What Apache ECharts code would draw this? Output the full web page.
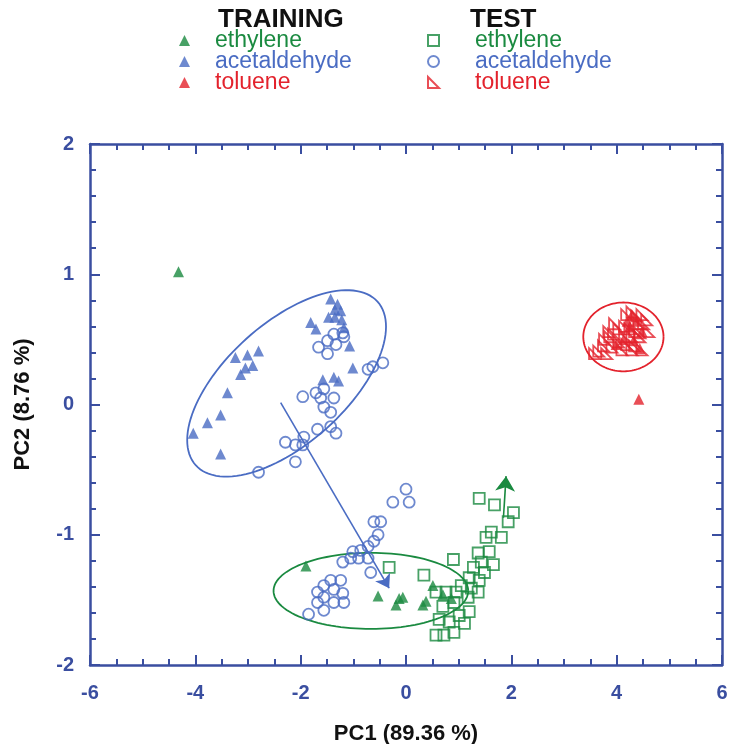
<!DOCTYPE html>
<html>
<head>
<meta charset="utf-8">
<script src="https://cdn.jsdelivr.net/npm/echarts@6/dist/echarts.min.js"></script>
<style>
  html, body { margin: 0; padding: 0; background: #fff; }
  #chartBox { width: 734px; height: 744px; }
</style>
</head>
<body>
<div id="chartBox"></div>
<script>
// colours
const GREEN = '#1a8a40'
const BLUE = '#4a6cc3'
const RED = '#e3222c'
const AXIS = '#3a4ea0'

// training (filled triangles)
const trainEthylene = [
  [-4.32, 1.02], [-1.90, -1.24], [-0.53, -1.47], [-0.13, -1.49], [-0.06, -1.48],
  [-0.19, -1.54], [0.32, -1.54], [0.38, -1.51], [0.51, -1.39], [0.70, -1.46], [0.86, -1.49]
]
const trainAcetaldehyde = [
  [-1.81, 0.63], [-1.71, 0.58], [-1.43, 0.81], [-1.30, 0.77], [-1.35, 0.67], [-1.22, 0.65],
  [-1.47, 0.67], [-1.18, 0.59], [-1.35, 0.73], [-1.24, 0.72], [-1.07, 0.45],
  [-3.24, 0.36], [-3.01, 0.38], [-2.80, 0.41], [-3.05, 0.28], [-2.91, 0.30], [-3.14, 0.23],
  [-3.39, 0.09], [-3.52, -0.08], [-3.77, -0.14], [-4.04, -0.22], [-3.52, -0.38],
  [-1.01, 0.28], [-1.58, 0.19], [-1.37, 0.21], [-1.28, 0.18]
]
const trainToluene = [
  [4.29, 0.69], [4.38, 0.64], [4.25, 0.60], [4.48, 0.56], [4.13, 0.50],
  [4.32, 0.49], [4.44, 0.43], [3.99, 0.46], [4.20, 0.64], [4.42, 0.04]
]

// test
const testEthylene = [
  [1.39, -0.72], [1.68, -0.77], [2.04, -0.83], [1.94, -0.90], [1.52, -1.02], [1.81, -1.02],
  [1.62, -0.98], [1.37, -1.14], [1.58, -1.13], [0.90, -1.19], [1.43, -1.21], [1.66, -1.23],
  [1.28, -1.25], [1.49, -1.29], [0.34, -1.31], [-0.32, -1.25], [1.20, -1.33], [1.39, -1.35],
  [0.76, -1.44], [0.95, -1.44], [1.18, -1.48], [1.37, -1.44], [0.70, -1.55], [0.91, -1.52],
  [1.20, -1.59], [1.01, -1.62], [0.63, -1.65], [0.82, -1.67], [1.11, -1.68], [0.57, -1.77],
  [0.72, -1.77], [0.91, -1.75], [1.05, -1.39], [1.24, -1.41], [0.57, -1.44]
]
const testAcetaldehyde = [
  [-1.37, 0.54], [-1.20, 0.55], [-1.49, 0.49], [-1.66, 0.44], [-1.33, 0.46], [-1.49, 0.39],
  [-1.18, 0.52], [-0.72, 0.27], [-0.63, 0.29], [-0.44, 0.32], [-1.96, 0.06], [-1.71, 0.09],
  [-1.56, 0.12], [-1.62, 0.05], [-1.37, 0.05], [-1.56, -0.02], [-1.43, -0.06], [-1.68, -0.19],
  [-1.43, -0.17], [-1.33, -0.22], [-2.29, -0.29], [-2.10, -0.31], [-1.94, -0.25], [-1.96, -0.31],
  [-2.10, -0.44], [-2.80, -0.52],
  [0.00, -0.65], [0.06, -0.75], [-0.25, -0.75], [-0.61, -0.90], [-0.48, -0.90], [-0.53, -1.00],
  [-0.61, -1.05], [-0.72, -1.09], [-0.86, -1.12], [-1.01, -1.13], [-1.05, -1.18], [-0.90, -1.18],
  [-1.20, -1.21], [-0.72, -1.18], [-0.67, -1.29], [-1.24, -1.35], [-1.43, -1.35], [-1.56, -1.39],
  [-1.68, -1.44], [-1.37, -1.42], [-1.20, -1.45], [-1.56, -1.48], [-1.18, -1.52], [-1.68, -1.52],
  [-1.85, -1.61], [-1.56, -1.58], [-1.37, -1.52]
]
const testToluene = [
  [4.19, 0.69], [4.29, 0.71], [4.38, 0.68], [4.48, 0.69], [4.57, 0.65], [4.51, 0.62], [4.42, 0.62],
  [4.15, 0.60], [4.25, 0.58], [4.34, 0.56], [4.44, 0.55], [4.61, 0.56], [3.96, 0.62], [4.04, 0.58],
  [3.94, 0.54], [3.85, 0.56], [3.87, 0.52], [4.15, 0.52], [4.29, 0.52], [4.44, 0.52], [3.77, 0.50],
  [4.04, 0.48], [4.19, 0.46], [4.34, 0.45], [3.75, 0.45], [3.91, 0.44], [4.10, 0.42], [4.29, 0.42],
  [4.48, 0.42], [3.66, 0.41], [3.81, 0.39], [3.58, 0.39]
]

// ellipses: centre x, centre y, semi-axis a (x, y), semi-axis b (x, y)
const ellipseAcetaldehyde = [-2.267, 0.162, 1.726, 0.628, 0.764, -0.343]
const ellipseEthylene = [-0.667, -1.431, 1.848, 0, 0, 0.292]
const ellipseToluene = [4.128, 0.519, 0.762, 0, 0, 0.264]

// arrows: from -> to
const arrowAcetaldehyde = [[-2.38, 0.015], [-0.32, -1.41]]
const arrowEthylene = [[1.85, -0.87], [1.90, -0.55]]

const xTicks = { min: -6, max: 6, interval: 2 }
const yTicks = { min: -2, max: 2, interval: 1 }

const FONT = 'Liberation Sans'

function ellipseSeries (e, color) {
  return {
    type: 'custom',
    silent: true,
    clip: false,
    z: 1,
    data: [[e[0], e[1]]],
    encode: { x: 0, y: 1 },
    renderItem: function (params, api) {
      const pts = []
      for (let i = 0; i <= 120; i++) {
        const t = i / 120 * Math.PI * 2
        const c = Math.cos(t)
        const s = Math.sin(t)
        pts.push(api.coord([e[0] + e[2] * c + e[4] * s, e[1] + e[3] * c + e[5] * s]))
      }
      return {
        type: 'polyline',
        shape: { points: pts },
        style: { stroke: color, lineWidth: 1.8, fill: null }
      }
    }
  }
}

function arrowSeries (a, color, size) {
  return {
    type: 'lines',
    coordinateSystem: 'cartesian2d',
    silent: true,
    z: 3,
    symbol: ['none', 'arrow'],
    symbolSize: size,
    lineStyle: { color: color, width: 1.6, opacity: 1 },
    data: [{ coords: a }]
  }
}

const hollow = function (color) {
  return { color: 'rgba(255,255,255,0)', borderColor: color, borderWidth: 1.8 }
}

function legendOf (left, pad, prefix) {
  return {
    left: left,
    top: 24,
    orient: 'vertical',
    itemWidth: 11,
    itemHeight: 11,
    itemGap: -2,
    selectedMode: false,
    formatter: function (name) { return name.split('|')[1] },
    textStyle: { fontSize: 23, lineHeight: 20, fontFamily: FONT, padding: [0, 0, 0, pad] },
    data: [
      { name: prefix + '|ethylene', textStyle: { color: GREEN } },
      { name: prefix + '|acetaldehyde', textStyle: { color: BLUE } },
      { name: prefix + '|toluene', textStyle: { color: RED } }
    ]
  }
}

function axisStyle () {
  return {
    axisLine: { onZero: false, lineStyle: { color: AXIS, width: 2.5 } },
    axisTick: { inside: true, length: 10, lineStyle: { color: AXIS, width: 2 } },
    splitLine: { show: false }
  }
}

const myChart = echarts.init(document.getElementById('chartBox'))
myChart.setOption({
  animation: false,
  textStyle: { fontFamily: FONT },
  grid: { left: 90, right: 12, top: 144, bottom: 79, outerBoundsMode: 'none', containLabel: false },
  graphic: [
    { type: 'text', left: 218, top: 7, style: { text: 'TRAINING', fontFamily: FONT, fontWeight: 'bold', fontSize: 26, fill: '#111' } },
    { type: 'text', left: 470, top: 7, style: { text: 'TEST', fontFamily: FONT, fontWeight: 'bold', fontSize: 26, fill: '#111' } }
  ],
  legend: [legendOf(174, 20, 'train'), legendOf(422, 31, 'test')],
  xAxis: [Object.assign(axisStyle(), {
    type: 'value',
    min: xTicks.min,
    max: xTicks.max,
    interval: xTicks.interval,
    name: 'PC1 (89.36 %)',
    nameLocation: 'middle',
    nameGap: 58,
    nameTextStyle: { fontSize: 22, fontWeight: 'bold', color: '#111', fontFamily: FONT },
    minorTick: { show: true, splitNumber: 4, length: 6, lineStyle: { color: AXIS, width: 2 } },
    axisLabel: { margin: 18, fontSize: 20, fontWeight: 'bold', color: AXIS, fontFamily: FONT }
  }), Object.assign(axisStyle(), {
    type: 'value',
    position: 'top',
    min: xTicks.min,
    max: xTicks.max,
    interval: xTicks.interval,
    minorTick: { show: true, splitNumber: 4, length: 6, lineStyle: { color: AXIS, width: 2 } },
    axisLabel: { show: false }
  })],
  yAxis: [Object.assign(axisStyle(), {
    type: 'value',
    min: yTicks.min,
    max: yTicks.max,
    interval: yTicks.interval,
    name: 'PC2 (8.76 %)',
    nameLocation: 'middle',
    nameGap: 56,
    nameTextStyle: { fontSize: 22, fontWeight: 'bold', color: '#111', fontFamily: FONT },
    minorTick: { show: true, splitNumber: 5, length: 6, lineStyle: { color: AXIS, width: 2 } },
    axisLabel: { margin: 16, fontSize: 20, fontWeight: 'bold', color: AXIS, fontFamily: FONT }
  }), Object.assign(axisStyle(), {
    type: 'value',
    position: 'right',
    min: yTicks.min,
    max: yTicks.max,
    interval: yTicks.interval,
    minorTick: { show: true, splitNumber: 5, length: 6, lineStyle: { color: AXIS, width: 2 } },
    axisLabel: { show: false }
  })],
  series: [
    ellipseSeries(ellipseAcetaldehyde, BLUE),
    ellipseSeries(ellipseEthylene, GREEN),
    ellipseSeries(ellipseToluene, RED),
    arrowSeries(arrowAcetaldehyde, BLUE, 13),
    arrowSeries(arrowEthylene, GREEN, 15),
    {
      name: 'test|ethylene', type: 'scatter', symbol: 'rect', symbolSize: 11,
      itemStyle: hollow(GREEN), data: testEthylene
    },
    {
      name: 'test|acetaldehyde', type: 'scatter', symbol: 'circle', symbolSize: 11,
      itemStyle: hollow(BLUE), data: testAcetaldehyde
    },
    {
      name: 'test|toluene', type: 'scatter', symbol: 'path://M0,0L0,10L10,10Z', symbolSize: 11,
      itemStyle: hollow(RED), data: testToluene
    },
    {
      name: 'train|ethylene', type: 'scatter', symbol: 'triangle', symbolSize: 11,
      itemStyle: { color: GREEN }, data: trainEthylene
    },
    {
      name: 'train|acetaldehyde', type: 'scatter', symbol: 'triangle', symbolSize: 11,
      itemStyle: { color: BLUE }, data: trainAcetaldehyde
    },
    {
      name: 'train|toluene', type: 'scatter', symbol: 'triangle', symbolSize: 11,
      itemStyle: { color: RED }, data: trainToluene
    }
  ]
})
</script>
</body>
</html>
